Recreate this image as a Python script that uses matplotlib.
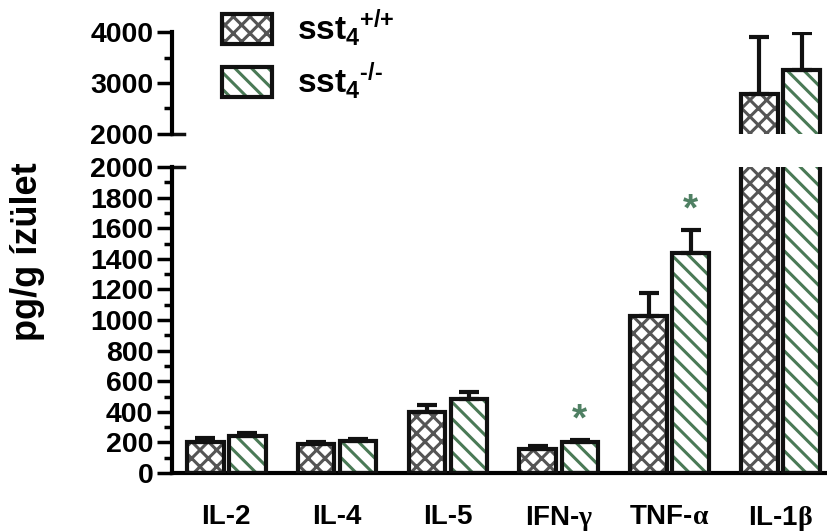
import numpy as np
import matplotlib.pyplot as plt
from matplotlib.patches import Patch
from matplotlib.ticker import MultipleLocator

# Fonts: Arial-like bold text, serif greek letters in the labels
plt.rcParams['font.family'] = ['Liberation Sans', 'DejaVu Sans']
plt.rcParams['font.weight'] = 'bold'
plt.rcParams['mathtext.fontset'] = 'custom'
plt.rcParams['mathtext.rm'] = 'Liberation Serif'
plt.rcParams['mathtext.bf'] = 'Liberation Sans:bold'
plt.rcParams['hatch.linewidth'] = 2.2

# Data
cytokines = ['IL-2', 'IL-4', 'IL-5', r'IFN-$\mathrm{\gamma}$',
             r'TNF-$\mathrm{\alpha}$', r'IL-1$\mathrm{\beta}$']
wt_mean = [205, 190, 400, 160, 1025, 2790]
wt_err = [22, 12, 42, 15, 150, 1110]
ko_mean = [240, 210, 485, 205, 1440, 3250]
ko_err = [20, 15, 45, 8, 150, 730]
ko_sig = [False, False, False, True, True, False]

labels = [r'$\mathbf{sst_4{}^{{+}/{+}}}$', '$\\mathbf{sst_4{}^{\u2010/\u2010}}$']
gray = '#555555'
green = '#4a7a56'
star_green = '#4f8063'

fig = plt.figure(figsize=(8.27, 5.31), dpi=100)
W, H = 827, 531
left = 172 / W
width = 1 - left
ax_bot = fig.add_axes([left, (H - 473) / H, width, 306 / H])
ax_top = fig.add_axes([left, (H - 134) / H, width, 102 / H])

x = np.arange(len(cytokines))
bw = 0.33
off = 0.19

for ax in (ax_bot, ax_top):
    # hatch layer, then a black outline on top
    ax.bar(x - off, wt_mean, bw, color='white', edgecolor=gray, hatch='xx', lw=0, zorder=2)
    ax.bar(x + off, ko_mean, bw, color='white', edgecolor=green, hatch='\\\\', lw=0, zorder=2)
    ax.bar(x - off, wt_mean, bw, fill=False, edgecolor='#111111', lw=3, zorder=3)
    ax.bar(x + off, ko_mean, bw, fill=False, edgecolor='#111111', lw=3, zorder=3)
    ax.errorbar(x - off, wt_mean, yerr=[np.zeros(len(x)), wt_err], fmt='none',
                ecolor='#111111', elinewidth=3, capsize=7, capthick=3, zorder=4)
    ax.errorbar(x + off, ko_mean, yerr=[np.zeros(len(x)), ko_err], fmt='none',
                ecolor='#111111', elinewidth=3, capsize=7, capthick=3, zorder=4)
    ax.set_xlim(-0.49, 5.42)
    ax.spines['top'].set_visible(False)
    ax.spines['right'].set_visible(False)
    ax.spines['left'].set_linewidth(3)
    ax.tick_params(axis='y', which='major', length=10.5, width=2.5, labelsize=20.5, pad=3)
    ax.tick_params(axis='y', which='minor', length=6, width=2.5)
    for lab in ax.get_yticklabels():
        lab.set_fontweight('bold')

# bottom panel 0-2000
ax_bot.set_ylim(0, 2000)
ax_bot.yaxis.set_major_locator(MultipleLocator(200))
ax_bot.yaxis.set_minor_locator(MultipleLocator(100))
ax_bot.spines['bottom'].set_linewidth(3)
ax_bot.set_xticks(x)
ax_bot.set_xticklabels(cytokines, fontsize=20, fontweight='bold')
ax_bot.tick_params(axis='x', length=0, pad=22)

# top panel 2000-4000
ax_top.set_ylim(2000, 4000)
ax_top.yaxis.set_major_locator(MultipleLocator(1000))
ax_top.yaxis.set_minor_locator(MultipleLocator(500))
ax_top.spines['bottom'].set_visible(False)
ax_top.set_xticks([])

# break marks: the 2000 ticks run on to the right as well
ax_top.axhline(2000, xmin=0, xmax=12 / 655, color='#111111', lw=2.5, clip_on=False)
ax_bot.axhline(2000, xmin=0, xmax=12 / 655, color='#111111', lw=2.5, clip_on=False)

# significance stars
for i in range(len(x)):
    if ko_sig[i]:
        ax_bot.text(x[i] + off, ko_mean[i] + ko_err[i] + 10, '*', color=star_green,
                    fontsize=28, fontweight='bold', ha='center', va='bottom')

fig.text(28 / W, 1 - 252 / H, 'pg/g ízület', rotation=90, fontsize=26,
         fontweight='bold', ha='center', va='center')

handles = [
    (Patch(facecolor='white', edgecolor=gray, hatch='xx', lw=0),
     Patch(fill=False, edgecolor='#111111', lw=3)),
    (Patch(facecolor='white', edgecolor=green, hatch='\\\\', lw=0),
     Patch(fill=False, edgecolor='#111111', lw=3)),
]
fig.legend(handles, labels, loc='upper left', bbox_to_anchor=(222 / W, 1 - 8 / H),
           frameon=False, fontsize=24, handlelength=1.5, handleheight=1.0,
           handletextpad=0.75, labelspacing=0.35, borderpad=0, borderaxespad=0)

fig.savefig('out.png', dpi=100)
